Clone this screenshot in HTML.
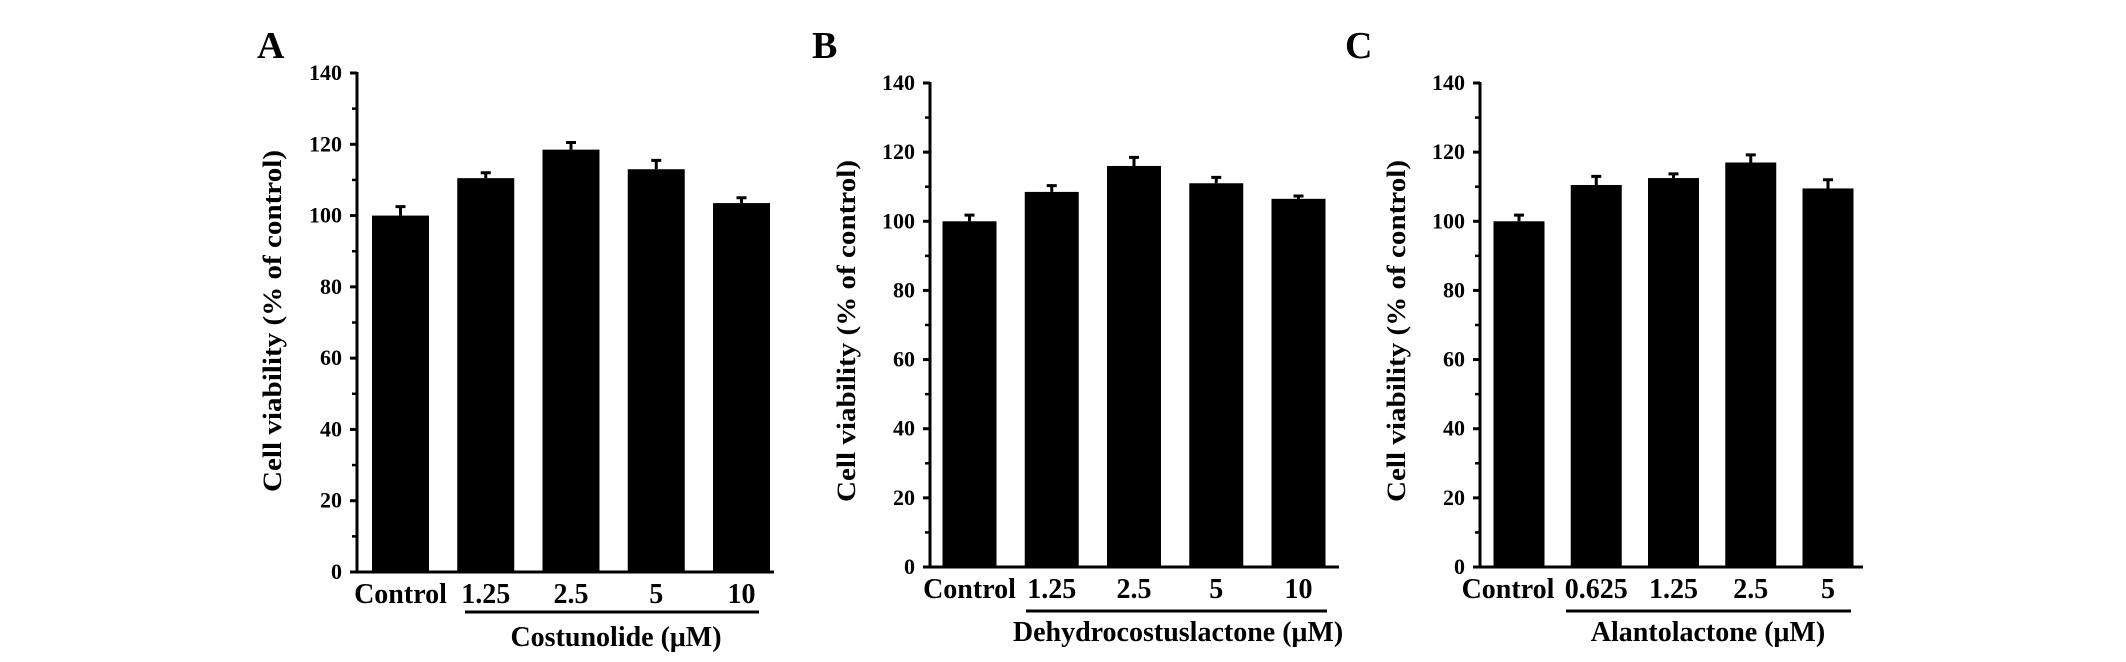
<!DOCTYPE html>
<html><head><meta charset="utf-8"><style>
html,body{margin:0;padding:0;background:#fff;}
svg{display:block;}
text{font-family:"Liberation Serif",serif;font-weight:bold;fill:#000;}
</style></head><body>
<svg id="fig" width="2126" height="662" viewBox="0 0 2126 662" xmlns="http://www.w3.org/2000/svg"></svg>
<script>
const categoriesA = ["Control","1.25","2.5","5","10"];
const valuesA = [100,110.5,118.5,113,103.5];
const errorsA = [2.5,1.5,2,2.5,1.5];
const categoriesB = ["Control","1.25","2.5","5","10"];
const valuesB = [100,108.5,116,111,106.5];
const errorsB = [1.8,1.8,2.5,1.7,0.8];
const categoriesC = ["Control","0.625","1.25","2.5","5"];
const valuesC = [100,110.5,112.5,117,109.5];
const errorsC = [1.8,2.5,1.2,2.2,2.5];
const yTicks = [0,20,40,60,80,100,120,140];
const titles = ["Costunolide (μM)","Dehydrocostuslactone (μM)","Alantolactone (μM)"];
const letters = ["A","B","C"];

const NS="http://www.w3.org/2000/svg";
const svg=document.getElementById('fig');
function mk(tag,attrs,parent){const e=document.createElementNS(NS,tag);for(const k in attrs)e.setAttribute(k,attrs[k]);(parent||svg).appendChild(e);return e;}

const panels=[
 {cats:categoriesA,vals:valuesA,errs:errorsA,ax:357,y0:572,y140:73,c0:400.5,pitch:85.25,bw:57,end:774,lab:603,ul:612,ulx:[465,759],tc:616,tb:646,ytx:272,yty:321,lx:257,ly:58,cshift:0},
 {cats:categoriesB,vals:valuesB,errs:errorsB,ax:930,y0:567,y140:83,c0:969.5,pitch:82.25,bw:54,end:1339,lab:598,ul:611,ulx:[1026,1327],tc:1178,tb:641,ytx:846,yty:331,lx:812,ly:58,cshift:0},
 {cats:categoriesC,vals:valuesC,errs:errorsC,ax:1480,y0:567,y140:83,c0:1519,pitch:77.25,bw:51,end:1863,lab:598,ul:611,ulx:[1566,1851],tc:1708,tb:641,ytx:1396,yty:331,lx:1345,ly:58,cshift:-11}
];

panels.forEach((p,pi)=>{
  const g=mk('g',{});
  
  
  const y=v=>p.y0-(v/140)*(p.y0-p.y140);
  const xc=i=>p.c0+i*p.pitch;
  const L=mk('text',{x:p.lx,y:p.ly,'font-size':38},g);L.textContent=letters[pi];
  
  
  p.vals.forEach((v,i)=>{
    const e=p.errs[i];
    const eb=mk('path',{d:`M${xc(i)} ${y(v)} V${y(v+e)} M${xc(i)-5} ${y(v+e)} H${xc(i)+5}`,stroke:'#000','stroke-width':3,fill:'none'},g);
    
    
    const r=mk('rect',{x:xc(i)-p.bw/2,y:y(v),width:p.bw,height:p.y0-y(v),fill:'#000'},g);
    
    
    const t=mk('text',{x:xc(i)+(i===0?p.cshift:0),y:p.lab,'font-size':28,'text-anchor':'middle'},g);
    t.textContent=p.cats[i];
    
    
  });
  const ya=mk('line',{x1:p.ax,y1:p.y140-1,x2:p.ax,y2:p.y0,stroke:'#000','stroke-width':3},g);
  
  
  const xa=mk('line',{x1:p.ax-7,y1:p.y0,x2:p.end,y2:p.y0,stroke:'#000','stroke-width':3},g);
  
  
  yTicks.forEach(v=>{
    mk('line',{x1:p.ax-7,y1:y(v),x2:p.ax,y2:y(v),stroke:'#000','stroke-width':3},g);
    if(v<140) mk('line',{x1:p.ax-5,y1:y(v+10),x2:p.ax,y2:y(v+10),stroke:'#000','stroke-width':2.5},g);
    const t=mk('text',{x:p.ax-15,y:y(v)+7,'font-size':22,'text-anchor':'end'},g);
    t.textContent=v;
    
    
  });
  const ul=mk('line',{x1:p.ulx[0],y1:p.ul,x2:p.ulx[1],y2:p.ul,stroke:'#000','stroke-width':3},g);
  
  
  const xt=mk('text',{x:p.tc,y:p.tb,'font-size':28,'text-anchor':'middle'},g);
  xt.textContent=titles[pi];
  
  
  const yt=mk('text',{x:0,y:0,'font-size':26,'text-anchor':'middle',transform:`translate(${p.ytx+9},${p.yty}) rotate(-90)`,textLength:342,lengthAdjust:'spacingAndGlyphs'},g);
  yt.textContent='Cell viability (% of control)';
  
  
});
</script>
</body></html>
